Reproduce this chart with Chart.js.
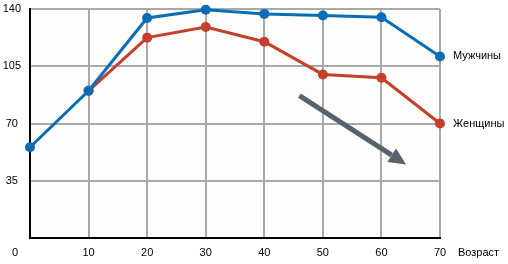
<!DOCTYPE html>
<html>
<head>
<meta charset="utf-8">
<script src="https://cdn.jsdelivr.net/npm/chart.js@4/dist/chart.umd.min.js"></script>
<style>
  html, body { margin: 0; padding: 0; background: #ffffff; }
  #wrap { width: 508px; height: 264px; }
</style>
</head>
<body>
<div id="wrap"><canvas id="js-line-chart"></canvas></div>
<script>
// Chart data
const ages = [0, 10, 20, 30, 40, 50, 60, 70];
const men = [55.5, 90, 134.5, 139.5, 137, 136, 135, 111];
const women = [null, 90, 122.5, 129, 120, 100, 98, 70];
const seriesNames = ['Мужчины', 'Женщины'];
const xTicks = [0, 10, 20, 30, 40, 50, 60, 70];
const yTicks = [0, 35, 70, 105, 140];
const xTitle = 'Возраст';
// trend arrow, in data units: from (age, value) to (age, value)
const arrowFrom = [46, 87];
const arrowTo = [64.2, 45];

const FONT = '11px "Liberation Sans", Arial, sans-serif';

const toPoints = (vals) => ages.map((a, i) => ({ x: a, y: vals[i] }));

// extra text + arrow drawn on top
const extras = {
  id: 'extras',
  beforeDraw(chart) {
    const { ctx, chartArea: a } = chart;
    ctx.save();
    ctx.fillStyle = '#fdfdfb';
    ctx.fillRect(a.left, a.top, a.right - a.left, a.bottom - a.top);
    ctx.restore();
  },
  afterDatasetsDraw(chart) {
    const { ctx, scales: { x, y } } = chart;
    ctx.save();
    // arrow
    const x1 = x.getPixelForValue(arrowFrom[0]), y1 = y.getPixelForValue(arrowFrom[1]);
    const x2 = x.getPixelForValue(arrowTo[0]), y2 = y.getPixelForValue(arrowTo[1]);
    const ang = Math.atan2(y2 - y1, x2 - x1);
    const headLen = 17, headW = 8;
    const bx = x2 - headLen * Math.cos(ang), by = y2 - headLen * Math.sin(ang);
    ctx.strokeStyle = '#56626c';
    ctx.fillStyle = '#56626c';
    ctx.lineWidth = 5;
    ctx.beginPath();
    ctx.moveTo(x1, y1);
    ctx.lineTo(bx, by);
    ctx.stroke();
    ctx.beginPath();
    ctx.moveTo(x2, y2);
    ctx.lineTo(bx + headW * Math.sin(ang), by - headW * Math.cos(ang));
    ctx.lineTo(bx - headW * Math.sin(ang), by + headW * Math.cos(ang));
    ctx.closePath();
    ctx.fill();

    // series names next to the last points
    ctx.font = FONT;
    ctx.fillStyle = '#000';
    ctx.textAlign = 'left';
    ctx.textBaseline = 'middle';
    const lastX = x.getPixelForValue(ages[ages.length - 1]) + 13;
    ctx.fillText(seriesNames[0], lastX, y.getPixelForValue(men[men.length - 1]));
    ctx.fillText(seriesNames[1], lastX, y.getPixelForValue(women[women.length - 1]));

    // axis title and the zero label
    const labelY = chart.chartArea.bottom + 14.5;
    ctx.fillText(xTitle, x.right + 18, labelY);
    ctx.textAlign = 'center';
    ctx.fillText('0', 15, labelY);
    ctx.restore();
  }
};

const lineChart = new Chart(document.getElementById('js-line-chart').getContext('2d'), {
  type: 'line',
  data: {
    datasets: [
      {
        label: seriesNames[0],
        data: toPoints(men),
        borderColor: '#0b6cb6',
        backgroundColor: '#0b6cb6',
        borderWidth: 3,
        pointRadius: 5,
        pointBorderWidth: 0,
        clip: false,
      },
      {
        label: seriesNames[1],
        data: toPoints(women),
        borderColor: '#c63f2a',
        backgroundColor: '#c63f2a',
        borderWidth: 3,
        pointRadius: 5,
        pointBorderWidth: 0,
        clip: false,
      },
    ],
  },
  options: {
    responsive: true,
    maintainAspectRatio: false,
    animation: false,
    layout: { padding: { top: 9, right: 68, left: 0, bottom: 0 } },
    plugins: { legend: { display: false }, tooltip: { enabled: false } },
    scales: {
      x: {
        type: 'linear',
        min: 0,
        max: 70,
        afterBuildTicks: (s) => { s.ticks = xTicks.map((v) => ({ value: v })); },
        ticks: {
          font: { family: '"Liberation Sans", Arial, sans-serif', size: 11 },
          color: '#000',
          padding: 8,
          maxRotation: 0,
          callback: (v) => (v === 0 ? '' : v),
        },
        grid: { color: '#a9a9a9', lineWidth: 2, drawTicks: false },
        border: { color: '#000', width: 2 },
        afterFit: (s) => { s.height = 26; s.paddingLeft = 0; s.paddingRight = 0; },
      },
      y: {
        min: 0,
        max: 140,
        afterBuildTicks: (s) => { s.ticks = yTicks.map((v) => ({ value: v })); },
        ticks: {
          font: { family: '"Liberation Sans", Arial, sans-serif', size: 11 },
          color: '#000',
          padding: 9,
          crossAlign: 'center',
          callback: (v) => (v === 0 ? '' : v),
        },
        grid: { color: '#a9a9a9', lineWidth: 2, drawTicks: false },
        border: { color: '#000', width: 2 },
        afterFit: (s) => { s.width = 30; s.paddingTop = 0; s.paddingBottom = 0; },
      },
    },
  },
  plugins: [extras],
});
</script>
</body>
</html>
